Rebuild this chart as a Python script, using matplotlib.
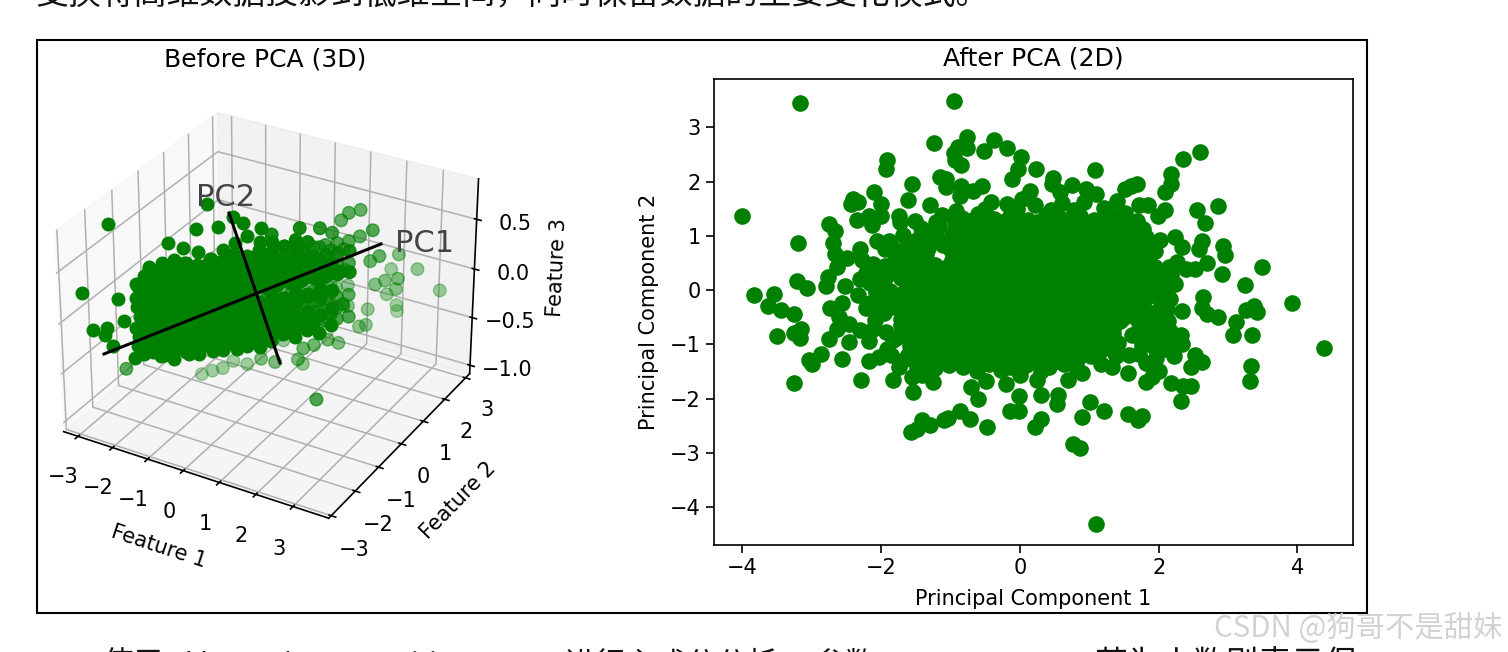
import matplotlib
matplotlib.use('Agg')
import matplotlib.pyplot as plt
import numpy as np
from matplotlib.lines import Line2D
from matplotlib.patches import Rectangle

W, H = 1508, 652
CJK = ['Noto Sans CJK SC', 'DejaVu Sans']

# values: edge of the cloud, one point at a time
pca_edge = [
    (-3.17, 3.45), (-0.95, 3.49), (-4.0, 1.36), (-3.2, 0.87), (1.09, -4.31), (4.38, -1.06), (3.92, -0.23),
    (3.49, 0.42), (3.25, 0.10), (2.91, 0.30), (2.70, 0.50), (2.96, 0.65), (2.93, 0.81), (2.86, 1.54),
    (2.67, 1.23), (2.55, 1.48), (2.59, 2.55), (2.35, 2.42), (2.17, 2.14), (2.18, 1.96), (2.09, 1.80),
    (2.09, 1.48), (1.99, 1.36), (1.84, 1.57), (1.72, 1.57), (1.69, 1.96), (1.60, 1.91), (1.51, 1.87),
    (1.40, 1.65), (1.21, 1.51), (1.08, 2.21), (1.09, 1.77), (0.95, 1.87), (0.92, 1.62), (0.75, 1.94),
    (0.60, 1.61), (0.57, 1.80), (0.46, 1.96), (0.48, 2.07), (0.23, 2.23), (0.01, 2.46), (-0.03, 2.23),
    (-0.12, 2.05), (-0.18, 2.62), (-0.37, 2.77), (-0.52, 2.57), (-0.76, 2.83), (-0.77, 2.62), (-0.89, 2.64),
    (-0.95, 2.52), (-0.94, 2.39), (-0.85, 2.31), (-1.24, 2.71), (-1.92, 2.39), (-1.93, 2.23), (-1.55, 1.95),
    (-1.15, 2.09), (-1.06, 2.05), (-1.06, 1.90), (-0.85, 1.91), (-0.55, 1.91), (-0.68, 1.82), (-0.86, 1.74),
    (0.15, 1.83), (0.03, 1.68), (0.22, 1.56), (-0.18, 1.59), (-0.42, 1.62), (-1.29, 1.57), (-1.62, 1.66),
    (-2.11, 1.80), (-2.01, 1.59), (-2.40, 1.68), (-2.34, 1.63), (-2.43, 1.59), (-2.0, 1.37), (-2.18, 1.36),
    (-2.35, 1.30), (-2.13, 1.19), (-1.75, 1.37), (-1.73, 1.25), (-2.75, 1.21), (-2.66, 1.08), (-2.70, 0.87),
    (-2.66, 0.67), (-2.49, 0.59), (-2.30, 0.76), (-2.27, 0.56), (-2.06, 0.90), (-1.89, 0.90), (-1.94, 0.76),
    (-1.68, 1.01), (-2.63, 0.42), (-2.77, 0.24), (-2.80, 0.07), (-2.52, 0.07), (-3.21, 0.17), (-3.07, 0.04),
    (-3.83, -0.10), (-3.55, -0.07), (-3.63, -0.30), (-3.44, -0.36), (-3.25, -0.45), (-3.50, -0.84), (-3.26, -0.80),
    (-3.15, -0.72), (-3.17, -0.88), (-2.74, -0.34), (-2.56, -0.24), (-2.61, -0.50), (-2.46, -0.62), (-2.64, -0.71),
    (-2.75, -0.91), (-2.46, -0.96), (-2.87, -1.18), (-3.04, -1.29), (-3.0, -1.37), (-2.57, -1.28), (-3.26, -1.71),
    (-2.29, -1.66), (-2.17, -1.31), (-2.18, -0.94), (-2.30, -0.74), (-2.09, -0.56), (-2.30, 0.21), (-2.16, 0.13),
    (-2.34, -0.10), (-2.03, -1.23), (-1.86, -1.20), (-1.75, -1.42), (-1.83, -1.66), (-1.83, -0.93), (-1.54, -1.88),
    (-1.55, -1.60), (-1.41, -1.57), (-1.25, -1.69), (-0.71, -1.79), (-0.61, -2.01), (-0.49, -1.68), (-0.20, -1.74),
    (-0.02, -1.95), (0.30, -1.94), (0.55, -1.93), (0.53, -2.10), (1.01, -2.07), (1.21, -2.23), (0.90, -2.34),
    (1.55, -2.29), (1.70, -2.40), (1.76, -2.33), (0.76, -2.83), (0.87, -2.92), (0.22, -2.52), (0.31, -2.37),
    (-0.01, -2.23), (-0.14, -2.23), (-0.48, -2.52), (-0.72, -2.37), (-0.86, -2.23), (-1.04, -2.36), (-1.09, -2.39),
    (-1.29, -2.49), (-1.41, -2.39), (-1.49, -2.57), (-1.57, -2.61), (2.32, -2.04), (2.47, -1.77), (2.35, -1.77),
    (2.18, -1.71), (2.0, -1.50), (1.81, -1.69), (1.91, -1.60), (1.81, -1.34), (1.55, -1.53), (1.32, -1.42),
    (1.17, -1.36), (1.57, -1.20), (1.17, -1.10), (0.89, -1.53), (0.69, -1.65), (0.25, -1.66), (0.0, -1.57),
    (3.32, -1.68), (3.33, -1.40), (3.35, -0.83), (3.07, -0.82), (3.12, -0.59), (3.26, -0.37), (3.38, -0.30),
    (3.41, -0.40), (2.85, -0.50), (2.69, -0.44), (2.63, -0.34), (2.64, -0.12), (2.34, -0.39), (2.63, -1.33),
    (2.52, -1.20), (2.47, -1.42), (2.32, -0.83), (2.34, -0.99), (2.22, -1.21), (2.13, -0.57), (2.52, 0.38),
    (2.40, 0.39), (2.27, 0.52), (2.15, 0.42), (1.94, 0.42), (1.81, 0.61), (2.34, 0.79), (2.24, 0.98),
    (2.02, 0.93), (2.58, 0.76), (2.63, 0.90), (2.24, 0.12), (2.06, 0.18), (1.81, 0.98), (1.78, 1.13),
]

# dense middle of the 2D cloud, estimated (single points cannot be told apart there)
pca_core = [
    (-1.12, 1.38), (-0.83, 1.33), (-0.61, 1.40), (-0.38, 1.31), (-0.14, 1.37), (0.12, 1.30), (0.38, 1.39), (0.58, 1.33), (0.87, 1.36), (1.06, 1.30), (1.31, 1.38), (1.52, 1.31), (1.68, 1.28),
    (-1.42, 1.14), (-1.16, 1.18), (-0.82, 1.12), (-0.59, 1.17), (-0.36, 1.11), (-0.13, 1.16), (0.11, 1.12), (0.31, 1.18), (0.52, 1.11), (0.72, 1.15), (0.94, 1.13), (1.16, 1.17), (1.36, 1.10), (1.57, 1.15),
    (-1.47, 0.94), (-1.21, 0.97), (-1.02, 0.91), (-0.79, 0.96), (-0.61, 0.92), (-0.41, 0.97), (-0.19, 0.93), (0.02, 0.96), (0.21, 0.91), (0.41, 0.97), (0.61, 0.93), (0.81, 0.96), (1.02, 0.92), (1.21, 0.97), (1.41, 0.93), (1.62, 0.96),
    (-1.52, 0.75), (-1.33, 0.78), (-0.99, 0.74), (-0.81, 0.77), (-0.62, 0.73), (-0.42, 0.78), (-0.21, 0.74), (-0.01, 0.77), (0.19, 0.73), (0.39, 0.76), (0.59, 0.74), (0.79, 0.77), (0.99, 0.73), (1.19, 0.78), (1.39, 0.74), (1.59, 0.76), (1.74, 0.72),
    (-1.82, 0.52), (-1.61, 0.57), (-1.39, 0.53), (-0.98, 0.56), (-0.78, 0.53), (-0.58, 0.58), (-0.38, 0.54), (-0.18, 0.57), (0.02, 0.52), (0.22, 0.56), (0.42, 0.53), (0.62, 0.57), (0.82, 0.53), (1.02, 0.56), (1.22, 0.52), (1.42, 0.57), (1.62, 0.53),
    (-2.03, 0.34), (-1.82, 0.38), (-1.58, 0.33), (-1.31, 0.37), (-1.13, 0.33), (-0.92, 0.36), (-0.72, 0.32), (-0.52, 0.37), (-0.32, 0.33), (-0.12, 0.36), (0.08, 0.32), (0.28, 0.37), (0.48, 0.33), (0.68, 0.36), (0.88, 0.32), (1.08, 0.37), (1.28, 0.33), (1.48, 0.36), (1.68, 0.32),
    (-1.96, 0.18), (-1.47, 0.15), (-1.27, 0.19), (-1.07, 0.14), (-0.87, 0.18), (-0.67, 0.13), (-0.47, 0.17), (-0.27, 0.14), (-0.07, 0.18), (0.13, 0.13), (0.33, 0.17), (0.53, 0.14), (0.73, 0.18), (0.93, 0.13), (1.13, 0.17), (1.33, 0.14), (1.53, 0.18), (1.73, 0.13), (1.91, 0.12),
    (-2.08, -0.03), (-1.88, -0.02), (-1.68, -0.05), (-1.28, -0.04), (-1.08, -0.01), (-0.88, -0.06), (-0.68, -0.02), (-0.48, -0.05), (-0.28, -0.01), (-0.08, -0.04), (0.12, -0.02), (0.32, -0.06), (0.52, -0.01), (0.72, -0.04), (0.92, -0.02), (1.12, -0.06), (1.32, -0.01), (1.52, -0.04), (1.72, -0.02), (1.92, -0.05), (2.11, -0.08),
    (-2.16, -0.23), (-1.95, -0.21), (-1.76, -0.25), (-1.52, -0.22), (-1.33, -0.26), (-1.13, -0.21), (-0.93, -0.24), (-0.73, -0.20), (-0.53, -0.25), (-0.33, -0.22), (-0.13, -0.26), (0.07, -0.21), (0.27, -0.24), (0.47, -0.20), (0.67, -0.25), (0.87, -0.22), (1.07, -0.26), (1.27, -0.21), (1.47, -0.24), (1.67, -0.20), (2.03, -0.24),
    (-2.02, -0.42), (-1.61, -0.41), (-1.42, -0.45), (-1.22, -0.40), (-1.02, -0.44), (-0.82, -0.39), (-0.62, -0.43), (-0.42, -0.41), (-0.22, -0.45), (-0.02, -0.40), (0.18, -0.44), (0.38, -0.39), (0.58, -0.43), (0.78, -0.41), (0.98, -0.45), (1.18, -0.40), (1.38, -0.44), (1.58, -0.39), (1.98, -0.43),
    (-1.56, -0.62), (-1.36, -0.59), (-1.16, -0.63), (-0.96, -0.58), (-0.76, -0.62), (-0.56, -0.60), (-0.36, -0.64), (-0.16, -0.59), (0.04, -0.63), (0.24, -0.58), (0.44, -0.62), (0.64, -0.60), (0.84, -0.64), (1.04, -0.59), (1.24, -0.63), (1.44, -0.58), (1.88, -0.61),
    (-1.93, -0.77), (-1.67, -0.79), (-1.46, -0.82), (-1.26, -0.77), (-1.06, -0.81), (-0.86, -0.78), (-0.66, -0.82), (-0.46, -0.77), (-0.26, -0.81), (-0.06, -0.78), (0.14, -0.82), (0.34, -0.77), (0.54, -0.81), (0.74, -0.78), (0.94, -0.82), (1.14, -0.77), (1.34, -0.81), (1.86, -0.84), (2.06, -0.87),
    (-1.46, -1.01), (-1.26, -0.98), (-1.06, -1.02), (-0.86, -0.97), (-0.66, -1.01), (-0.46, -0.98), (-0.26, -1.02), (-0.06, -0.97), (0.14, -1.01), (0.34, -0.98), (0.54, -1.02), (0.74, -0.97), (0.94, -1.01), (1.92, -1.04), (2.11, -1.09),
    (-1.51, -1.20), (-1.31, -1.17), (-1.08, -1.22), (-0.88, -1.18), (-0.66, -1.21), (-0.42, -1.19), (-0.22, -1.22), (0.03, -1.18), (0.24, -1.22), (0.46, -1.17), (0.68, -1.21), (0.88, -1.19),
    (-1.02, -1.39), (-0.82, -1.41), (-0.44, -1.37), (-0.14, -1.42), (0.08, -1.38), (0.42, -1.41), (0.63, -1.37),
]

# second layer of the dense middle, fills the gaps of the first
pca_fill = [
    (-0.93, 1.24), (-0.72, 1.27), (-0.49, 1.23), (-0.27, 1.26), (-0.03, 1.22), (0.24, 1.25), (0.47, 1.21), (0.73, 1.26), (0.97, 1.23), (1.19, 1.27), (1.44, 1.22),
    (-1.31, 1.06), (-0.98, 1.03), (-0.71, 1.07), (-0.49, 1.02), (-0.25, 1.06), (-0.02, 1.03), (0.22, 1.07), (0.42, 1.02), (0.63, 1.06), (0.84, 1.03), (1.06, 1.07), (1.27, 1.02), (1.47, 1.06), (1.67, 1.03),
    (-1.34, 0.86), (-1.11, 0.83), (-0.91, 0.87), (-0.71, 0.84), (-0.51, 0.88), (-0.31, 0.83), (-0.09, 0.86), (0.11, 0.84), (0.31, 0.88), (0.51, 0.83), (0.71, 0.86), (0.91, 0.84), (1.11, 0.88), (1.31, 0.83), (1.51, 0.86), (1.70, 0.84),
    (-0.89, 0.64), (-0.69, 0.67), (-0.49, 0.63), (-0.29, 0.66), (-0.09, 0.62), (0.11, 0.67), (0.31, 0.63), (0.51, 0.66), (0.71, 0.62), (0.91, 0.67), (1.11, 0.63), (1.31, 0.66), (1.51, 0.62), (1.69, 0.65),
    (-1.71, 0.46), (-1.49, 0.44), (-1.22, 0.47), (-1.05, 0.43), (-0.68, 0.46), (-0.48, 0.44), (-0.28, 0.47), (-0.08, 0.43), (0.12, 0.46), (0.32, 0.44), (0.52, 0.47), (0.72, 0.43), (0.92, 0.46), (1.12, 0.44), (1.32, 0.47), (1.52, 0.43), (1.72, 0.46),
    (-1.91, 0.27), (-1.45, 0.26), (-1.22, 0.24), (-1.02, 0.27), (-0.81, 0.23), (-0.62, 0.26), (-0.42, 0.24), (-0.22, 0.27), (-0.02, 0.23), (0.18, 0.26), (0.38, 0.24), (0.58, 0.27), (0.78, 0.23), (0.98, 0.26), (1.18, 0.24), (1.38, 0.27), (1.58, 0.23), (1.78, 0.26),
    (-1.58, 0.06), (-1.37, 0.08), (-1.17, 0.05), (-0.97, 0.09), (-0.77, 0.06), (-0.57, 0.04), (-0.37, 0.08), (-0.17, 0.05), (0.03, 0.09), (0.23, 0.06), (0.43, 0.04), (0.63, 0.08), (0.83, 0.05), (1.03, 0.09), (1.23, 0.06), (1.43, 0.04), (1.63, 0.08), (1.83, 0.05), (2.02, 0.07),
    (-2.03, -0.12), (-1.42, -0.14), (-1.19, -0.11), (-0.78, -0.13), (-0.58, -0.16), (-0.38, -0.12), (-0.18, -0.14), (0.02, -0.11), (0.22, -0.15), (0.42, -0.12), (0.62, -0.14), (0.82, -0.11), (1.02, -0.15), (1.22, -0.12), (1.42, -0.14), (1.62, -0.11), (1.82, -0.15), (2.03, -0.12),
    (-1.86, -0.32), (-1.66, -0.34), (-1.42, -0.31), (-1.23, -0.35), (-1.03, -0.32), (-0.83, -0.30), (-0.63, -0.34), (-0.43, -0.31), (-0.23, -0.35), (-0.03, -0.32), (0.17, -0.30), (0.37, -0.34), (0.57, -0.31), (0.77, -0.35), (0.97, -0.32), (1.17, -0.30), (1.37, -0.34), (1.57, -0.31), (1.77, -0.35),
    (-1.72, -0.53), (-1.51, -0.51), (-1.31, -0.54), (-1.11, -0.52), (-0.91, -0.50), (-0.71, -0.54), (-0.51, -0.52), (-0.31, -0.55), (-0.11, -0.50), (0.09, -0.53), (0.29, -0.51), (0.49, -0.54), (0.69, -0.52), (0.89, -0.55), (1.09, -0.50), (1.29, -0.53), (1.49, -0.51), (1.69, -0.54),
    (-1.46, -0.71), (-1.26, -0.69), (-1.06, -0.72), (-0.86, -0.68), (-0.66, -0.71), (-0.46, -0.69), (-0.26, -0.73), (-0.06, -0.68), (0.14, -0.71), (0.34, -0.69), (0.54, -0.72), (0.74, -0.68), (0.94, -0.71), (1.14, -0.69), (1.34, -0.72), (1.99, -0.72),
    (-1.56, -0.91), (-1.36, -0.89), (-1.16, -0.92), (-0.96, -0.88), (-0.76, -0.91), (-0.56, -0.89), (-0.36, -0.92), (-0.16, -0.88), (0.24, -0.91), (0.44, -0.89), (0.64, -0.92), (0.84, -0.88), (1.04, -0.91), (1.24, -0.89), (2.0, -0.98),
    (-1.41, -1.10), (-1.21, -1.08), (-0.98, -1.11), (-0.76, -1.09), (-0.56, -1.12), (-0.34, -1.08), (-0.12, -1.11), (0.14, -1.09), (0.34, -1.12), (0.58, -1.08), (0.79, -1.11), (1.98, -1.14),
    (-1.21, -1.30), (-0.98, -1.28), (-0.76, -1.31), (-0.54, -1.29), (-0.31, -1.32), (-0.04, -1.29), (0.19, -1.31), (0.33, -1.28), (0.55, -1.31), (0.82, -1.29),
]

# looser ring around the middle
pca_ring = [
    (-1.36, -1.31), (-1.48, -1.42), (-1.22, -1.44), (-0.62, -1.49), (-0.28, -1.48), (0.31, -1.50), (0.81, -1.41), (1.02, -1.21), (1.08, -0.98), (1.29, -1.06), (1.42, -0.98), (1.38, -1.22),
    (1.72, -0.72), (1.62, -0.83), (1.76, -1.02), (1.93, -0.92), (1.72, -1.18), (1.96, -1.26), (2.13, -0.99), (2.16, -0.76), (2.03, -0.58), (1.89, -0.43), (1.78, -0.52), (2.12, -0.37),
    (2.16, -0.16), (2.06, 0.04), (2.18, 0.28), (1.96, 0.26), (1.87, 0.50), (1.88, 0.34), (1.95, 0.72), (1.86, 0.83), (1.52, 1.42), (1.22, 1.29), (0.78, 1.47), (0.45, 1.48), (-0.04, 1.49), (-0.51, 1.50), (-0.92, 1.46), (-1.21, 1.26),
    (-1.52, 1.28), (-1.61, 0.88), (-1.68, 0.68), (-1.82, 0.76), (-1.94, 0.44), (-2.12, 0.48), (-2.22, 0.32), (-1.72, 0.22), (-1.58, 0.20), (-2.22, -0.33), (-1.96, -0.42), (-2.12, -0.72),
    (-1.72, -0.64), (-1.78, -0.89), (-1.58, -1.03), (-1.62, -1.19), (-1.66, -1.28), (-1.92, -1.08), (-1.35, 0.66), (-1.48, 0.59),
]

# values: edge of the cloud
feat_edge = [
    (-2.76, -2.0, 0.82), (-3.2, -2.5, 0.21), (1.6, 0.0, -0.9), (3.14, 3.0, -0.26), (2.56, 2.9, -0.08), (1.95, 2.7, -0.10),
    (2.15, 2.7, 0.07), (2.24, 2.5, -0.40), (2.26, 2.5, -0.46), (2.02, 2.4, -0.29), (2.27, 2.4, -0.21), (2.32, 2.4, -0.10),
    (2.02, 2.3, -0.13), (1.81, 2.2, -0.17), (1.24, 2.4, 0.49), (1.04, 2.2, 0.48), (0.89, 2.1, 0.41), (1.71, 2.2, 0.37),
    (1.91, 2.2, 0.13), (1.72, 2.1, 0.08), (1.42, 2.1, 0.30), (1.74, 2.0, -0.39), (1.82, 1.8, -0.50), (1.69, 1.7, -0.51),
    (1.43, 1.2, -0.60), (1.26, 1.0, -0.54), (1.0, 0.8, -0.58), (0.83, 0.6, -0.59), (0.68, 0.6, -0.72), (0.69, 0.8, -0.81),
    (0.23, 0.3, -0.73), (-0.1, 0.2, -0.71), (-0.57, 0.3, -0.84), (-0.9, 0.2, -0.82), (-1.07, 0.0, -0.87), (-1.3, -0.1, -0.9),
    (-1.54, -0.2, -0.94), (-2.7, -1.6, -0.70), (-2.45, -1.6, -0.56), (-2.91, -1.8, -0.44), (-3.15, -2.2, -0.22), (-2.9, -2.0, -0.22),
    (-2.98, -2.0, -0.3), (-2.56, -1.8, -0.15), (-2.63, -1.9, 0.08), (-2.2, -1.8, 0.25), (-1.95, -1.6, 0.38), (-1.67, -1.5, 0.45),
    (-1.55, -1.4, 0.64), (-1.29, -1.2, 0.58), (-1.05, -1.0, 0.74), (-1.1, -0.5, 0.88), (-0.72, -0.6, 0.72), (-0.59, -0.2, 0.75),
    (-0.47, 0.0, 0.66), (-0.17, 0.3, 0.58), (-0.07, 0.6, 0.47), (0.51, 0.9, 0.53), (0.81, 1.3, 0.48), (0.96, 1.6, 0.39),
]

# dense middle of the 3D cloud, estimated
feat_core = [
    (-2.3, -1.55, -0.50), (-1.8, -2.3, -0.22), (-2.1, -1.85, -0.26), (-1.6, -2.6, 0.05), (-2.4, -1.4, -0.18), (-1.9, -2.15, 0.13), (-1.7, -2.45, 0.30), (-2.2, -1.7, 0.20),
    (-2.12, -1.33, -0.52), (-1.6, -2.1, -0.19), (-1.9, -1.65, -0.20), (-1.4, -2.4, 0.12), (-2.2, -1.2, -0.13), (-1.7, -1.95, 0.20), (-1.5, -2.25, 0.40), (-2.0, -1.5, 0.29), (-1.8, -1.8, 0.46),
    (-1.9, -1.15, -0.57), (-1.4, -1.9, -0.24), (-1.7, -1.45, -0.27), (-1.2, -2.2, 0.07), (-2.0, -1.0, -0.18), (-1.5, -1.75, 0.15), (-1.3, -2.05, 0.35), (-1.8, -1.3, 0.24), (-1.6, -1.6, 0.44),
    (-1.7, -0.95, -0.52), (-1.2, -1.7, -0.19), (-1.5, -1.25, -0.21), (-1.0, -2.0, 0.12), (-1.8, -0.8, -0.13), (-1.3, -1.55, 0.20), (-1.1, -1.85, 0.40), (-1.6, -1.1, 0.29), (-1.4, -1.4, 0.49),
    (-1.5, -0.75, -0.60), (-1.0, -1.5, -0.24), (-1.3, -1.05, -0.26), (-0.8, -1.8, 0.07), (-1.6, -0.6, -0.18), (-1.1, -1.35, 0.15), (-0.9, -1.65, 0.35), (-1.4, -0.9, 0.24), (-1.2, -1.2, 0.44),
    (-1.3, -0.55, -0.55), (-0.8, -1.3, -0.19), (-1.1, -0.85, -0.21), (-0.6, -1.6, 0.12), (-1.4, -0.4, -0.13), (-0.9, -1.15, 0.20), (-0.7, -1.45, 0.40), (-1.2, -0.7, 0.29), (-1.0, -1.0, 0.52),
    (-1.1, -0.35, -0.62), (-0.6, -1.1, -0.24), (-0.9, -0.65, -0.26), (-0.4, -1.4, 0.07), (-1.2, -0.2, -0.18), (-0.7, -0.95, 0.15), (-0.5, -1.25, 0.35), (-1.0, -0.5, 0.24), (-0.8, -0.8, 0.44), (-1.0, -0.6, -0.42),
    (-0.9, -0.15, -0.58), (-0.4, -0.9, -0.19), (-0.7, -0.45, -0.21), (-0.2, -1.2, 0.12), (-1.0, 0.0, -0.13), (-0.5, -0.75, 0.20), (-0.3, -1.05, 0.40), (-0.8, -0.3, 0.29), (-0.6, -0.6, 0.50), (-0.8, -0.4, -0.40),
    (-0.7, 0.05, -0.64), (-0.2, -0.7, -0.26), (-0.5, -0.25, -0.24), (0.0, -1.0, 0.07), (-0.8, 0.2, -0.18), (-0.3, -0.55, 0.15), (-0.1, -0.85, 0.35), (-0.6, -0.1, 0.24), (-0.4, -0.4, 0.55), (-0.6, -0.2, -0.44),
    (-0.5, 0.25, -0.60), (0.0, -0.5, -0.19), (-0.3, -0.05, -0.21), (0.2, -0.8, 0.12), (-0.6, 0.4, -0.13), (-0.1, -0.35, 0.20), (0.1, -0.65, 0.40), (-0.4, 0.1, 0.29), (-0.2, -0.2, 0.60), (-0.4, 0.0, -0.42),
    (-0.3, 0.45, -0.66), (0.2, -0.3, -0.24), (-0.1, 0.15, -0.26), (0.4, -0.6, 0.07), (-0.4, 0.6, -0.18), (0.1, -0.15, 0.15), (0.3, -0.45, 0.35), (-0.2, 0.3, 0.24), (0.0, 0.0, 0.52), (-0.2, 0.2, -0.46),
    (-0.1, 0.65, -0.62), (0.4, -0.1, -0.19), (0.1, 0.35, -0.21), (0.6, -0.4, 0.12), (-0.2, 0.8, -0.13), (0.3, 0.05, 0.20), (0.5, -0.25, 0.40), (0.0, 0.5, 0.29), (0.2, 0.2, 0.50), (0.0, 0.4, -0.42),
    (0.1, 0.85, -0.64), (0.6, 0.1, -0.24), (0.3, 0.55, -0.26), (0.8, -0.2, 0.07), (0.0, 1.0, -0.18), (0.5, 0.25, 0.15), (0.7, -0.05, 0.35), (0.2, 0.7, 0.24), (0.4, 0.4, 0.44), (0.2, 0.6, -0.44),
    (0.3, 1.05, -0.60), (0.8, 0.3, -0.19), (0.5, 0.75, -0.21), (1.0, 0.0, 0.12), (0.2, 1.2, -0.13), (0.7, 0.45, 0.20), (0.9, 0.15, 0.40), (0.4, 0.9, 0.29), (0.6, 0.6, 0.48), (0.4, 0.8, -0.40),
    (0.5, 1.25, -0.56), (1.0, 0.5, -0.24), (0.7, 0.95, -0.26), (1.2, 0.2, 0.07), (0.4, 1.4, -0.18), (0.9, 0.65, 0.15), (1.1, 0.35, 0.35), (0.6, 1.1, 0.24), (0.8, 0.8, 0.44),
    (0.7, 1.45, -0.52), (1.2, 0.7, -0.19), (0.9, 1.15, -0.21), (1.4, 0.4, 0.12), (0.6, 1.6, -0.13), (1.1, 0.85, 0.20), (1.3, 0.55, 0.36), (0.8, 1.3, 0.29),
    (0.9, 1.65, -0.46), (1.4, 0.9, -0.24), (1.1, 1.35, -0.26), (1.6, 0.6, 0.07), (0.8, 1.8, -0.18), (1.3, 1.05, 0.15), (1.5, 0.75, 0.30), (1.0, 1.5, 0.24),
    (1.3, 1.6, -0.32), (1.6, 1.1, -0.16), (1.2, 1.8, 0.0), (1.4, 1.3, 0.10), (1.1, 1.9, 0.18),
]

feat_fill = [
    (-1.65, -2.28, -0.28), (-2.05, -1.68, -0.34), (-1.85, -1.98, -0.14), (-2.25, -1.38, -0.21), (-1.55, -2.43, 0.21), (-1.95, -1.83, 0.14), (-1.75, -2.13, 0.34), (-2.15, -1.53, 0.28),
    (-1.45, -2.08, -0.28), (-1.85, -1.48, -0.34), (-1.65, -1.78, -0.14), (-2.05, -1.18, -0.21), (-1.35, -2.23, 0.21), (-1.75, -1.63, 0.14), (-1.55, -1.93, 0.34), (-1.95, -1.33, 0.28),
    (-1.25, -1.88, -0.28), (-1.65, -1.28, -0.34), (-1.45, -1.58, -0.14), (-1.85, -0.98, -0.21), (-1.15, -2.03, 0.21), (-1.55, -1.43, 0.14), (-1.35, -1.73, 0.34), (-1.75, -1.13, 0.28),
    (-1.05, -1.68, -0.28), (-1.45, -1.08, -0.34), (-1.25, -1.38, -0.14), (-1.65, -0.78, -0.21), (-0.95, -1.83, 0.21), (-1.35, -1.23, 0.14), (-1.15, -1.53, 0.34), (-1.55, -0.93, 0.28),
    (-0.85, -1.48, -0.28), (-1.25, -0.88, -0.34), (-1.05, -1.18, -0.14), (-1.45, -0.58, -0.21), (-0.75, -1.63, 0.21), (-1.15, -1.03, 0.14), (-0.95, -1.33, 0.34), (-1.35, -0.73, 0.28),
    (-0.65, -1.28, -0.28), (-1.05, -0.68, -0.34), (-0.85, -0.98, -0.14), (-1.25, -0.38, -0.21), (-0.55, -1.43, 0.21), (-0.95, -0.83, 0.14), (-0.75, -1.13, 0.34), (-1.15, -0.53, 0.28),
    (-0.45, -1.08, -0.28), (-0.85, -0.48, -0.34), (-0.65, -0.78, -0.14), (-1.05, -0.18, -0.21), (-0.35, -1.23, 0.21), (-0.75, -0.63, 0.14), (-0.55, -0.93, 0.34), (-0.95, -0.33, 0.28),
    (-0.25, -0.88, -0.28), (-0.65, -0.28, -0.34), (-0.45, -0.58, -0.14), (-0.85, 0.02, -0.21), (-0.15, -1.03, 0.21), (-0.55, -0.43, 0.14), (-0.35, -0.73, 0.34), (-0.75, -0.13, 0.28),
    (-0.05, -0.68, -0.28), (-0.45, -0.08, -0.34), (-0.25, -0.38, -0.14), (-0.65, 0.22, -0.21), (0.05, -0.83, 0.21), (-0.35, -0.23, 0.14), (-0.15, -0.53, 0.34), (-0.55, 0.08, 0.28),
    (0.15, -0.48, -0.28), (-0.25, 0.12, -0.34), (-0.05, -0.18, -0.14), (-0.45, 0.42, -0.21), (0.25, -0.63, 0.21), (-0.15, -0.03, 0.14), (0.05, -0.33, 0.34), (-0.35, 0.28, 0.28),
    (0.35, -0.28, -0.28), (-0.05, 0.33, -0.34), (0.15, 0.02, -0.14), (-0.25, 0.63, -0.21), (0.45, -0.43, 0.21), (0.05, 0.18, 0.14), (0.25, -0.13, 0.34), (-0.15, 0.48, 0.28),
    (0.55, -0.08, -0.28), (0.15, 0.53, -0.34), (0.35, 0.23, -0.14), (-0.05, 0.83, -0.21), (0.65, -0.23, 0.21), (0.25, 0.38, 0.14), (0.45, 0.08, 0.34), (0.05, 0.68, 0.28),
    (0.75, 0.13, -0.28), (0.35, 0.73, -0.34), (0.55, 0.43, -0.14), (0.15, 1.03, -0.21), (0.85, -0.03, 0.21), (0.45, 0.58, 0.14), (0.65, 0.28, 0.34), (0.25, 0.88, 0.28),
    (0.95, 0.33, -0.28), (0.55, 0.93, -0.34), (0.75, 0.63, -0.14), (0.35, 1.23, -0.21), (1.05, 0.18, 0.21), (0.65, 0.78, 0.14), (0.85, 0.48, 0.34), (0.45, 1.08, 0.28),
    (1.15, 0.53, -0.28), (0.75, 1.13, -0.34), (0.95, 0.83, -0.14), (0.55, 1.43, -0.21), (1.25, 0.38, 0.21), (0.85, 0.98, 0.14), (1.05, 0.68, 0.34), (0.65, 1.28, 0.28),
    (1.35, 0.73, -0.28), (0.95, 1.33, -0.34), (1.15, 1.03, -0.14), (0.75, 1.63, -0.21), (1.45, 0.58, 0.21), (1.05, 1.18, 0.14), (1.25, 0.88, 0.34), (0.85, 1.48, 0.28),
    (1.55, 0.93, -0.28), (1.15, 1.53, -0.34), (1.35, 1.23, -0.14), (0.95, 1.83, -0.21), (1.65, 0.78, 0.21), (1.25, 1.38, 0.14), (1.45, 1.08, 0.34), (1.05, 1.68, 0.28),
    (1.75, 1.13, -0.28), (1.35, 1.73, -0.34), (1.55, 1.43, -0.14), (1.15, 2.03, -0.21), (1.85, 0.98, 0.21), (1.45, 1.58, 0.14), (1.65, 1.28, 0.34), (1.25, 1.88, 0.28),
]

# nearer points, they sit on top and stay dark
feat_front = [
    (-1.1, -2.35, -0.23), (-1.1, -2.35, -0.05), (-1.1, -2.35, 0.13), (-1.1, -2.35, 0.31), (-1.1, -2.35, 0.49),
    (-0.9, -2.15, -0.28), (-0.9, -2.15, -0.10), (-0.9, -2.15, 0.08), (-0.9, -2.15, 0.26), (-0.9, -2.15, 0.44), (-0.9, -2.15, 0.60),
    (-0.7, -1.95, -0.23), (-0.7, -1.95, -0.05), (-0.7, -1.95, 0.13), (-0.7, -1.95, 0.31), (-0.7, -1.95, 0.49), (-0.7, -1.95, 0.64),
    (-0.5, -1.75, -0.28), (-0.5, -1.75, -0.10), (-0.5, -1.75, 0.08), (-0.5, -1.75, 0.26), (-0.5, -1.75, 0.44), (-0.5, -1.75, 0.60),
    (-0.3, -1.55, -0.23), (-0.3, -1.55, -0.05), (-0.3, -1.55, 0.13), (-0.3, -1.55, 0.31), (-0.3, -1.55, 0.49), (-0.3, -1.55, 0.64),
    (-0.1, -1.35, -0.28), (-0.1, -1.35, -0.10), (-0.1, -1.35, 0.08), (-0.1, -1.35, 0.26), (-0.1, -1.35, 0.44), (-0.1, -1.35, 0.60),
    (0.1, -1.15, -0.23), (0.1, -1.15, -0.05), (0.1, -1.15, 0.13), (0.1, -1.15, 0.31), (0.1, -1.15, 0.49), (0.1, -1.15, 0.64),
    (0.3, -0.95, -0.28), (0.3, -0.95, -0.10), (0.3, -0.95, 0.08), (0.3, -0.95, 0.26), (0.3, -0.95, 0.44), (0.3, -0.95, 0.60),
    (0.5, -0.75, -0.23), (0.5, -0.75, -0.05), (0.5, -0.75, 0.13), (0.5, -0.75, 0.31), (0.5, -0.75, 0.49), (0.5, -0.75, 0.64),
    (0.7, -0.55, -0.28), (0.7, -0.55, -0.10), (0.7, -0.55, 0.08), (0.7, -0.55, 0.26), (0.7, -0.55, 0.44), (0.7, -0.55, 0.60),
    (0.9, -0.35, -0.23), (0.9, -0.35, -0.05), (0.9, -0.35, 0.13), (0.9, -0.35, 0.31), (0.9, -0.35, 0.49), (0.9, -0.35, 0.64),
    (1.1, -0.15, -0.28), (1.1, -0.15, -0.10), (1.1, -0.15, 0.08), (1.1, -0.15, 0.26), (1.1, -0.15, 0.44), (1.1, -0.15, 0.60),
    (1.3, 0.05, -0.23), (1.3, 0.05, -0.05), (1.3, 0.05, 0.13), (1.3, 0.05, 0.31), (1.3, 0.05, 0.49),
    (1.5, 0.25, -0.28), (1.5, 0.25, -0.10), (1.5, 0.25, 0.08), (1.5, 0.25, 0.26), (1.5, 0.25, 0.44),
    (1.7, 0.45, -0.23), (1.7, 0.45, -0.05), (1.7, 0.45, 0.13), (1.7, 0.45, 0.31),
]

ticks_1 = [-3, -2, -1, 0, 1, 2, 3]
ticks_2 = [-3, -2, -1, 0, 1, 2, 3]
ticks_3 = [-1.0, -0.5, 0.0, 0.5]

# PC lines are drawn by hand on the picture, so they are given in pixels of the image
pc1_line = ([104, 381], [354, 244])
pc2_line = ([229, 280], [213, 363])


def fx(x):
    return x / W


def fy(y):
    return 1 - y / H


plt.rcParams['grid.linewidth'] = 1.1
plt.rcParams['axes.linewidth'] = 1.2
plt.rcParams['xtick.major.width'] = 1.2
plt.rcParams['ytick.major.width'] = 1.2

fig = plt.figure(figsize=(W / 100, H / 100), dpi=100, facecolor='white')

# рамка вокруг обоих графиков
fig.add_artist(Rectangle((fx(37), fy(613)), 1330 / W, 573 / H, transform=fig.transFigure,
                         fill=False, edgecolor='black', linewidth=1.5))

# 3D panel: the near part of the cloud is solid in the reference, only the far right and the bottom fade
ax1 = fig.add_axes([fx(28), fy(548), 472 / W, 472 / H], projection='3d')
pts3 = np.array(feat_edge + feat_core + feat_fill + feat_front)
near = (pts3[:, 1] < 0.6) & (pts3[:, 2] > -0.7)
ax1.scatter(pts3[~near, 0], pts3[~near, 1], pts3[~near, 2], c='green', s=82)
ax1.scatter(pts3[near, 0], pts3[near, 1], pts3[near, 2], c='green', s=82, depthshade=False)
ax1.set_xlim(-3.42, 3.95)
ax1.set_ylim(-3.1, 3.2)
ax1.set_zlim(-1.09, 0.9)
ax1.set_xticks(ticks_1)
ax1.set_yticks(ticks_2)
ax1.set_zticks(ticks_3)
ax1.tick_params(labelsize=15)
ax1.tick_params(axis='x', pad=8)
ax1.tick_params(axis='y', pad=7)
ax1.tick_params(axis='z', pad=9)
ax1.set_xlabel('Feature 1', fontsize=15, labelpad=16)
ax1.set_ylabel('Feature 2', fontsize=15, labelpad=16)
ax1.set_zlabel('Feature 3', fontsize=15, labelpad=16)
ax1.set_title('Before PCA (3D)', fontsize=18, x=0.503, y=1.09)

# 2D panel
ax2 = fig.add_axes([fx(714), fy(545), 639 / W, 466 / H])
pts2 = np.array(pca_edge + pca_core + pca_fill + pca_ring)
ax2.scatter(pts2[:, 0], pts2[:, 1], c='green', s=120)
ax2.set_xlim(-4.41, 4.8)
ax2.set_ylim(-4.7, 3.89)
ax2.tick_params(labelsize=15, length=6)
ax2.set_xlabel('Principal Component 1', fontsize=15, labelpad=8)
ax2.set_ylabel('Principal Component 2', fontsize=15, labelpad=8)
ax2.set_title('After PCA (2D)', fontsize=18, pad=10)

# hand drawn PC axes and labels
for xs, ys in (pc1_line, pc2_line):
    fig.add_artist(Line2D([fx(v) for v in xs], [fy(v) for v in ys], transform=fig.transFigure,
                          color='black', linewidth=2.2))
fig.text(fx(395), fy(252), 'PC1', fontsize=22, color='#444444')
fig.text(fx(196), fy(206), 'PC2', fontsize=22, color='#444444')

# surrounding article text, cut by the edge of the image
fig.text(fx(35), fy(4), '变换将高维数据投影到低维空间，同时保留数据的主要变化模式。', fontsize=23.7,
         family=CJK, color='#111111')
for x, s, size in [(102, '使用', 22), (172, 'sklearn.decomposition.PCA', 20), (565, '进行主成分分析，', 22),
                   (815, '参数', 22), (885, 'n_components', 21), (1095, '若为小数则表示保', 23.7)]:
    fig.text(fx(x), fy(674), s, fontsize=size, family=CJK, color='#111111')
fig.text(fx(1503), fy(637), 'CSDN @狗哥不是甜妹', fontsize=21.2, family=CJK, color='#d2d2d2', ha='right')

fig.savefig('out.png', dpi=100)
